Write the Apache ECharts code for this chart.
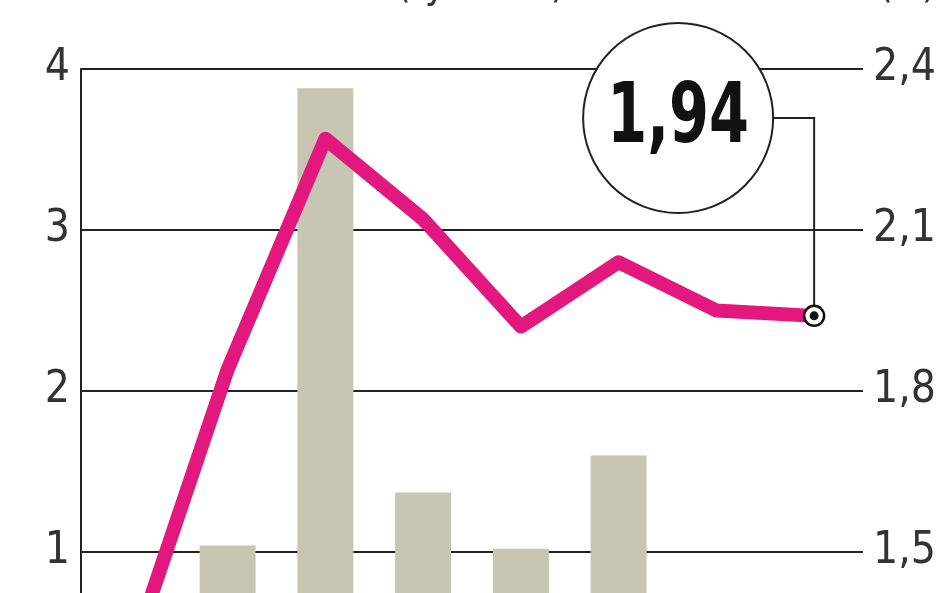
<!DOCTYPE html>
<html>
<head>
<meta charset="utf-8">
<script src="https://cdn.jsdelivr.net/npm/echarts@6/dist/echarts.min.js"></script>
<style>
html, body { margin: 0; padding: 0; background: #fff; }
#main { width: 948px; height: 593px; }
</style>
</head>
<body>
<div id="main"></div>
<script>
// dane
var categories = ['1', '2', '3', '4', '5', '6', '7', '8'];
var volumeVals = [null, 1.04, 3.88, 1.37, 1.02, 1.60, null, null];   // lewa oś
var priceVals = [1.30, 1.84, 2.27, 2.12, 1.92, 2.04, 1.95, 1.94];    // prawa oś
var leftTicks = [0, 1, 2, 3, 4];
var rightTicks = [1.2, 1.5, 1.8, 2.1, 2.4];
var leftTitle = 'Wolumen obrotu (tys. szt.)';
var rightTitle = 'Kurs (zł)';

var FONT = '"Liberation Sans Narrow", "DejaVu Sans Condensed", sans-serif';
function plFmt(v) { return v.toFixed(1).replace('.', ','); }

var myChart = echarts.init(document.getElementById('main'));
var option = {
    animation: false,
    backgroundColor: '#fff',
    grid: { left: 81, right: 85, top: 69, height: 644, outerBoundsMode: 'none', containLabel: false },
    xAxis: {
        type: 'category',
        data: categories,
        axisLine: { show: false },
        axisTick: { show: false },
        axisLabel: { show: false }
    },
    yAxis: [{
        type: 'value',
        min: leftTicks[0],
        max: leftTicks[leftTicks.length - 1],
        interval: 1,
        axisLine: { show: true, lineStyle: { color: '#222', width: 2 } },
        axisTick: { show: false },
        splitLine: { show: true, lineStyle: { color: '#222', width: 2 } },
        axisLabel: {
            margin: 11,
            color: '#333',
            fontFamily: FONT,
            fontSize: 44,
            fontWeight: 300,
            padding: [0, 0, 14, 0]
        }
    }, {
        type: 'value',
        position: 'right',
        min: rightTicks[0],
        max: rightTicks[rightTicks.length - 1],
        interval: 0.3,
        axisLine: { show: false },
        axisTick: { show: false },
        splitLine: { show: false },
        axisLabel: {
            margin: 10,
            color: '#333',
            fontFamily: FONT,
            fontSize: 44,
            fontWeight: 300,
            padding: [0, 0, 14, 0],
            formatter: function (v) { return plFmt(v); }
        }
    }],
    series: [{
        name: 'wolumen',
        type: 'bar',
        yAxisIndex: 0,
        data: volumeVals,
        barWidth: 56,
        itemStyle: { color: '#c6c6b3' }
    }, {
        name: 'kurs',
        type: 'line',
        yAxisIndex: 1,
        data: priceVals,
        symbol: 'none',
        lineStyle: { color: '#e2187f', width: 14, join: 'round' },
        z: 3
    }]
};
myChart.setOption(option);

// dymek z ostatnią wartością
var lastIdx = priceVals.length - 1;
var p = myChart.convertToPixel({ seriesIndex: 1 }, [lastIdx, priceVals[lastIdx]]);
var cx = p[0] - 136, cy = 118, r = 95;
myChart.setOption({
    graphic: [
        {
            type: 'text', left: 88, top: -33, z: 10,
            style: { text: leftTitle, font: '400 40px ' + FONT, fill: '#333' }
        },
        {
            type: 'text', right: 12, top: -33, z: 10,
            style: { text: rightTitle, font: '400 40px ' + FONT, fill: '#333' }
        },
        {
            type: 'polyline', z: 9,
            shape: { points: [[cx + r, cy], [p[0], cy], [p[0], p[1]]] },
            style: { stroke: '#222', lineWidth: 2, fill: null }
        },
        {
            type: 'circle', z: 10,
            shape: { cx: cx, cy: cy, r: r },
            style: { fill: '#fff', stroke: '#222', lineWidth: 2 }
        },
        {
            type: 'text', z: 11, x: cx, y: cy + 2, scaleX: 0.76,
            style: {
                text: priceVals[lastIdx].toFixed(2).replace('.', ','),
                font: 'bold 84px ' + FONT, fill: '#111',
                align: 'center', verticalAlign: 'middle'
            }
        },
        {
            type: 'circle', z: 12,
            shape: { cx: p[0], cy: p[1], r: 10 },
            style: { fill: '#fff', stroke: '#111', lineWidth: 2.5 }
        },
        {
            type: 'circle', z: 13,
            shape: { cx: p[0], cy: p[1], r: 4.5 },
            style: { fill: '#111' }
        }
    ]
});
</script>
</body>
</html>
